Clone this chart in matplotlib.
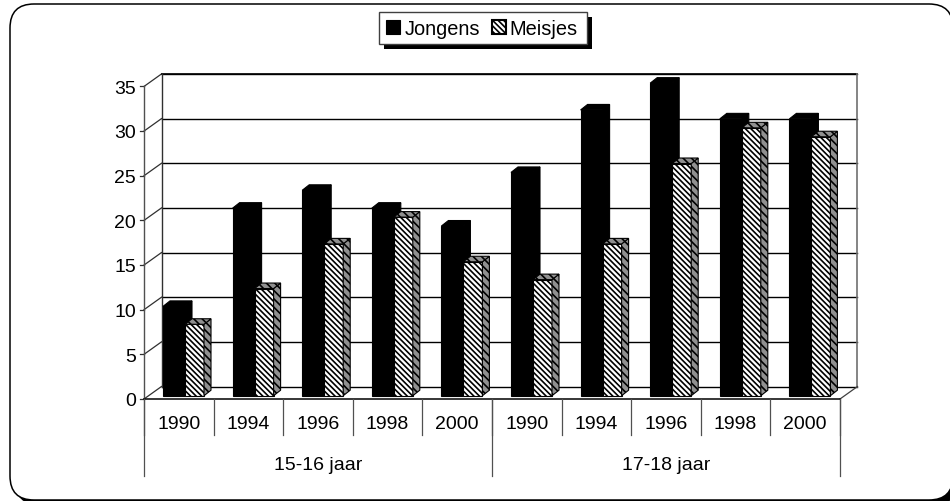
import numpy as np
import matplotlib
matplotlib.use('Agg')
import matplotlib.pyplot as plt
from matplotlib.patches import FancyBboxPatch, Polygon, Rectangle
from matplotlib.transforms import Affine2D

years = ['1990', '1994', '1996', '1998', '2000', '1990', '1994', '1996', '1998', '2000']
groups = ['15-16 jaar', '17-18 jaar']
jongens = [10, 21, 23, 21, 19, 25, 32, 35, 31, 31]
meisjes = [8, 12, 17, 20, 15, 13, 17, 26, 30, 29]
y_ticks = [0, 5, 10, 15, 20, 25, 30, 35]

# scale of the axes: pixels per category and per unit
PX_X = 69.6
PX_Y = 8.93
X0 = 144
Y0 = 400
W, H = 950, 502

plt.rcParams['font.family'] = ['Liberation Sans', 'DejaVu Sans']
plt.rcParams['hatch.linewidth'] = 1.2
HATCH = '\\' * 6
SIDE_HATCH = '\\' * 4
FS = 14

fig = plt.figure(figsize=(W / 100, H / 100), dpi=100)
ax = fig.add_axes([0, 0, 1, 1])
ax.set_xlim(-X0 / PX_X, (W - X0) / PX_X)
ax.set_ylim(-(H - Y0) / PX_Y, Y0 / PX_Y)
ax.axis('off')

# pixel coordinates for the decoration (frame, legend)
px = Affine2D().scale(1, -1).translate(0, H)

# outer frame with shadow
shadow = FancyBboxPatch((15, 10), 943, 496, boxstyle='round,pad=0,rounding_size=24',
                        fc='black', ec='black', lw=0, transform=px, clip_on=False, zorder=0)
frame = FancyBboxPatch((10, 5), 943, 496, boxstyle='round,pad=0,rounding_size=24',
                       fc='white', ec='black', lw=1.1, transform=px, clip_on=False, zorder=0.5)
ax.add_patch(shadow)
ax.add_patch(frame)

n = len(years)
dx = 17.5 / PX_X
dy = 12.5 / PX_Y

# walls and grid
for v in y_ticks:
    ax.plot([dx, n + dx], [v + dy, v + dy], color='black', lw=1, zorder=1)
    ax.plot([0, dx], [v, v + dy], color='#303030', lw=0.9, zorder=1)
    ax.plot([-4 / PX_X, 0], [v, v], color='#303030', lw=0.9, zorder=1)
    ax.text(-8 / PX_X, v - 0.2, str(v), ha='right', va='center', fontsize=FS)
ax.plot([dx, n + dx], [35 + dy, 35 + dy], color='black', lw=1.2, zorder=1)
ax.plot([0, 0], [0, 35], color='#505050', lw=1, zorder=1)
ax.plot([dx, dx], [dy, 35 + dy], color='#303030', lw=1, zorder=1)
ax.plot([n + dx, n + dx], [dy, 35 + dy], color='#707070', lw=1.2, zorder=1)
ax.plot([n, n + dx], [0, dy], color='#404040', lw=0.9, zorder=1)
ax.plot([0, n], [0, 0], color='black', lw=1.1, zorder=1)

# category axis
lower = -36 / PX_Y
lowest = -77 / PX_Y
for i in range(n + 1):
    ax.plot([i, i], [0, lower], color='#505050', lw=0.9, zorder=1)
for i in [0, 5, 10]:
    ax.plot([i, i], [0, lowest], color='#505050', lw=0.9, zorder=1)
for i, year in enumerate(years):
    ax.text(i + 0.5, -24.5 / PX_Y, year, ha='center', va='center', fontsize=FS)
for i, group in enumerate(groups):
    ax.text(5 * i + 2.5, -65.5 / PX_Y, group, ha='center', va='center', fontsize=FS)


def draw_bar(x, value, width, base, side_x, side_y, hatched, z):
    top = base + value
    if hatched:
        ax.bar(x, value, width, bottom=base, align='edge', fc='white', ec='black',
               lw=0.8, hatch=HATCH, zorder=z)
        face = dict(fc='#909090', ec='black', lw=0.8, hatch=SIDE_HATCH, zorder=z)
    else:
        ax.bar(x, value, width, bottom=base, align='edge', fc='black', ec='black',
               lw=0.8, zorder=z)
        face = dict(fc='black', ec='black', lw=0.8, zorder=z)
    ax.add_patch(Polygon([(x + width, base), (x + width + side_x, base + side_y),
                          (x + width + side_x, top + side_y), (x + width, top)], **face))
    ax.add_patch(Polygon([(x, top), (x + side_x, top + side_y),
                          (x + width + side_x, top + side_y), (x + width, top)], **face))


base = 3.3 / PX_Y
side_x = 7 / PX_X
side_y = 5.5 / PX_Y
for i in range(n):
    z = 2 + i * 0.1
    draw_bar(i + 19 / PX_X, jongens[i], 22 / PX_X, base, side_x, side_y, False, z)
    draw_bar(i + 41 / PX_X, meisjes[i], 19 / PX_X, base, side_x, side_y, True, z + 0.05)

# legend
ax.add_patch(Rectangle((384, 18), 208, 32, fc='black', ec='black', lw=0, transform=px, zorder=5))
ax.add_patch(Rectangle((379, 13), 208, 32, fc='white', ec='#404040', lw=1, transform=px, zorder=6))
ax.add_patch(Rectangle((386, 21), 14, 14, fc='black', ec='black', lw=0.8, transform=px, zorder=7))
ax.add_patch(Rectangle((491.5, 21), 14, 14, fc='white', ec='black', lw=1.5, hatch=HATCH,
                       transform=px, zorder=7))
ax.text(404.5, 30, 'Jongens', ha='left', va='center', fontsize=14.4, transform=px, zorder=7)
ax.text(509.5, 30, 'Meisjes', ha='left', va='center', fontsize=14.4, transform=px, zorder=7)

fig.savefig('out.png', dpi=100)
